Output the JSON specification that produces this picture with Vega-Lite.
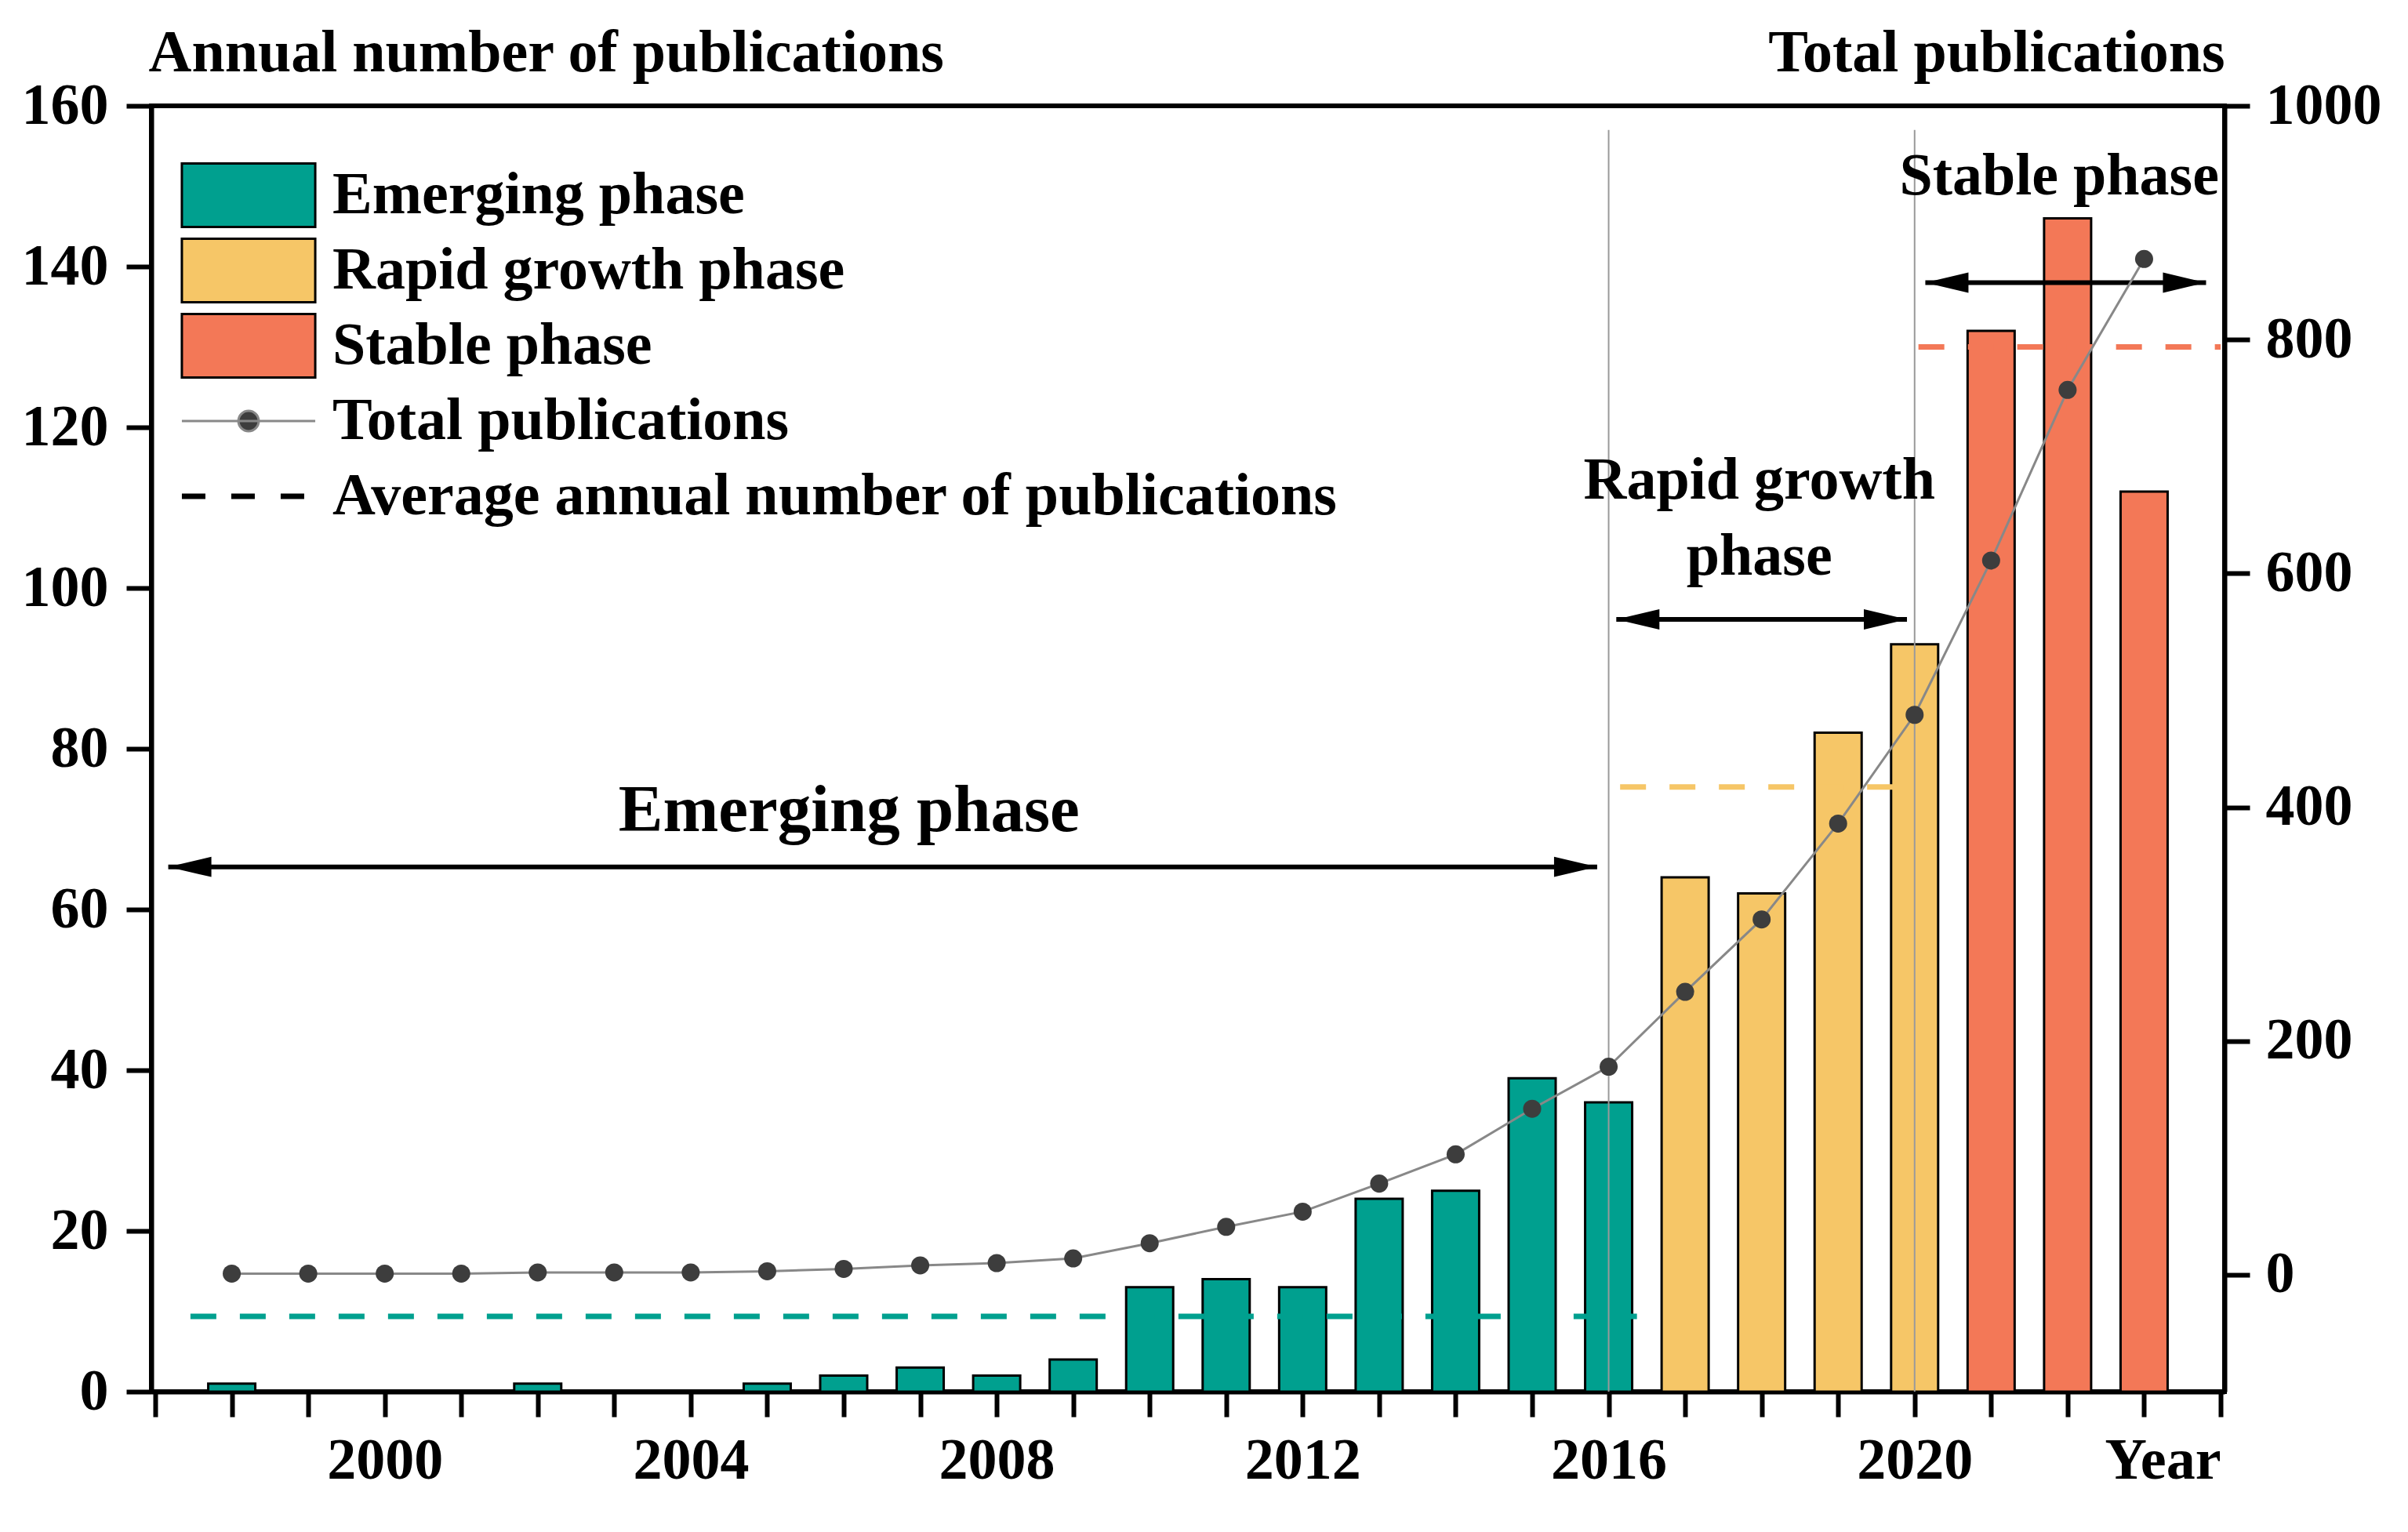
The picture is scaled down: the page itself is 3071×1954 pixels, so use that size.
{
  "$schema": "https://vega.github.io/schema/vega-lite/v6.json",
  "width": 2644,
  "height": 1640,
  "autosize": {"type": "none"},
  "padding": {"left": 193, "top": 135, "right": 234, "bottom": 179},
  "background": "white",
  "config": {
    "view": {"stroke": "black", "strokeWidth": 6},
    "font": "Liberation Serif",
    "axis": {
      "domainColor": "black", "domainWidth": 6, "tickColor": "black", "tickWidth": 6,
      "labelFont": "Liberation Serif", "labelFontWeight": "bold", "labelFontSize": 74, "labelColor": "black",
      "titleFont": "Liberation Serif", "titleFontWeight": "bold", "titleFontSize": 76, "titleColor": "black",
      "grid": false, "zindex": 1, "labelFlush": false, "labelOverlap": false, "labelBound": false
    }
  },
  "datasets": {
    "pubs": [
      {"year": 1998, "annual": 1, "total": 1, "phase": "Emerging phase"},
      {"year": 1999, "annual": 0, "total": 1, "phase": "Emerging phase"},
      {"year": 2000, "annual": 0, "total": 1, "phase": "Emerging phase"},
      {"year": 2001, "annual": 0, "total": 1, "phase": "Emerging phase"},
      {"year": 2002, "annual": 1, "total": 2, "phase": "Emerging phase"},
      {"year": 2003, "annual": 0, "total": 2, "phase": "Emerging phase"},
      {"year": 2004, "annual": 0, "total": 2, "phase": "Emerging phase"},
      {"year": 2005, "annual": 1, "total": 3, "phase": "Emerging phase"},
      {"year": 2006, "annual": 2, "total": 5, "phase": "Emerging phase"},
      {"year": 2007, "annual": 3, "total": 8, "phase": "Emerging phase"},
      {"year": 2008, "annual": 2, "total": 10, "phase": "Emerging phase"},
      {"year": 2009, "annual": 4, "total": 14, "phase": "Emerging phase"},
      {"year": 2010, "annual": 13, "total": 27, "phase": "Emerging phase"},
      {"year": 2011, "annual": 14, "total": 41, "phase": "Emerging phase"},
      {"year": 2012, "annual": 13, "total": 54, "phase": "Emerging phase"},
      {"year": 2013, "annual": 24, "total": 78, "phase": "Emerging phase"},
      {"year": 2014, "annual": 25, "total": 103, "phase": "Emerging phase"},
      {"year": 2015, "annual": 39, "total": 142, "phase": "Emerging phase"},
      {"year": 2016, "annual": 36, "total": 178, "phase": "Emerging phase"},
      {"year": 2017, "annual": 64, "total": 242, "phase": "Rapid growth phase"},
      {"year": 2018, "annual": 62, "total": 304, "phase": "Rapid growth phase"},
      {"year": 2019, "annual": 82, "total": 386, "phase": "Rapid growth phase"},
      {"year": 2020, "annual": 93, "total": 479, "phase": "Rapid growth phase"},
      {"year": 2021, "annual": 132, "total": 611, "phase": "Stable phase"},
      {"year": 2022, "annual": 146, "total": 757, "phase": "Stable phase"},
      {"year": 2023, "annual": 112, "total": 869, "phase": "Stable phase"}
    ],
    "avgs": [
      {"phase": "Emerging phase", "from": 1997.46, "to": 2016.37, "avg": 9.37},
      {"phase": "Rapid growth phase", "from": 2016.15, "to": 2020.0, "avg": 75.25},
      {"phase": "Stable phase", "from": 2020.05, "to": 2024.0, "avg": 130}
    ],
    "bounds": [{"year": 2016}, {"year": 2020}],
    "arrows": [
      {"phase": "Emerging phase", "from": 1997.17, "to": 2015.85, "level": 65.3},
      {"phase": "Rapid growth phase", "from": 2016.1, "to": 2019.9, "level": 96.1},
      {"phase": "Stable phase", "from": 2020.14, "to": 2023.81, "level": 138}
    ]
  },
  "layer": [
    {
      "layer": [
        {
          "data": {"name": "pubs"},
          "mark": {"type": "bar", "orient": "vertical", "size": 60, "stroke": "black", "strokeWidth": 3},
          "encoding": {
            "x": {
              "field": "year", "type": "quantitative",
              "scale": {"domain": [1997, 2024], "nice": false, "zero": false},
              "axis": {
                "title": null,
                "values": [1997, 1998, 1999, 2000, 2001, 2002, 2003, 2004, 2005, 2006, 2007, 2008, 2009, 2010, 2011, 2012, 2013, 2014, 2015, 2016, 2017, 2018, 2019, 2020, 2021, 2022, 2023, 2024],
                "format": "d",
                "labelExpr": "datum.value == 2024 ? 'Year' : (datum.value % 4 == 0 ? datum.label : '')",
                "tickSize": 32,
                "labelAlign": {"condition": {"test": "datum.value == 2024", "value": "right"}, "value": "center"},
                "labelPadding": 20,
                "encode": {"ticks": {"update": {"y2": {"signal": "datum.value % 4 === 0 ? 32 : 16"}}}}
              }
            },
            "y": {
              "field": "annual", "type": "quantitative",
              "scale": {"domain": [0, 160], "nice": false},
              "axis": {
                "values": [0, 20, 40, 60, 80, 100, 120, 140, 160],
                "title": "Annual number of publications",
                "titleAngle": 0, "titleAlign": "left", "titleBaseline": "alphabetic",
                "titleX": -4, "titleY": -45, "tickSize": 32, "labelPadding": 23
              }
            },
            "fill": {
              "field": "phase", "type": "nominal",
              "scale": {
                "domain": ["Emerging phase", "Rapid growth phase", "Stable phase", "Total publications", "Average annual number of publications"],
                "range": ["#00A08F", "#F6C667", "#F37857", "#3d3d3d", "#000000"]
              },
              "legend": {
                "title": null, "orient": "none", "legendX": 43, "legendY": 76, "padding": 0,
                "gridAlign": "all",
                "symbolType": "M-2.1,-1H2.1V1H-2.1Z", "symbolSize": 6561,
                "symbolStrokeColor": "black", "symbolStrokeWidth": 3, "symbolOffset": 43, "symbolOpacity": 1,
                "labelFont": "Liberation Serif", "labelFontWeight": "bold", "labelFontSize": 76, "labelColor": "black",
                "labelOffset": 69, "labelLimit": 0, "rowPadding": 2,
                "encode": {
                  "symbols": {
                    "update": {
                      "shape": {"signal": "datum.value === 'Total publications' ? 'M-2.1,0H2.1M0.32,0A0.32,0.32 0 1,1 -0.32,0A0.32,0.32 0 1,1 0.32,0Z' : (datum.value === 'Average annual number of publications' ? 'M-2.1,0H2.1' : 'M-2.1,-1H2.1V1H-2.1Z')"},
                      "stroke": {"signal": "datum.value === 'Total publications' ? '#888888' : 'black'"},
                      "strokeWidth": {"signal": "datum.value === 'Average annual number of publications' ? 7 : 3"},
                      "strokeDash": {"signal": "datum.value === 'Average annual number of publications' ? [30, 33] : null"}
                    }
                  }
                }
              }
            }
          }
        },
        {
          "data": {"name": "avgs"},
          "mark": {"type": "rule", "strokeWidth": 7, "strokeDash": [33, 30]},
          "encoding": {
            "x": {"field": "from", "type": "quantitative"},
            "x2": {"field": "to"},
            "y": {"field": "avg", "type": "quantitative"},
            "stroke": {
              "field": "phase", "type": "nominal",
              "scale": {
                "domain": ["Emerging phase", "Rapid growth phase", "Stable phase"],
                "range": ["#00A08F", "#F6C667", "#F37857"]
              },
              "legend": null
            }
          }
        },
        {
          "data": {"name": "bounds"},
          "mark": {"type": "rule", "color": "#9a9a9a", "strokeWidth": 2},
          "encoding": {
            "x": {"field": "year", "type": "quantitative"},
            "y": {"datum": 0, "type": "quantitative"},
            "y2": {"datum": 157}
          }
        },
        {
          "data": {"name": "arrows"},
          "mark": {"type": "rule", "color": "black", "strokeWidth": 6},
          "encoding": {
            "x": {"field": "from", "type": "quantitative"},
            "x2": {"field": "to"},
            "y": {"field": "level", "type": "quantitative"}
          }
        },
        {
          "data": {"name": "arrows"},
          "mark": {"type": "point", "filled": true, "color": "black", "opacity": 1, "strokeWidth": 0, "size": 3025, "shape": "M0,0L2,-0.47L2,0.47Z"},
          "encoding": {
            "x": {"field": "from", "type": "quantitative"},
            "y": {"field": "level", "type": "quantitative"}
          }
        },
        {
          "data": {"name": "arrows"},
          "mark": {"type": "point", "filled": true, "color": "black", "opacity": 1, "strokeWidth": 0, "size": 3025, "shape": "M0,0L-2,-0.47L-2,0.47Z"},
          "encoding": {
            "x": {"field": "to", "type": "quantitative"},
            "y": {"field": "level", "type": "quantitative"}
          }
        },
        {
          "data": {"values": [{"label": "Emerging phase", "x": 2006.07, "y": 69.8}]},
          "mark": {"type": "text", "font": "Liberation Serif", "fontWeight": "bold", "fontSize": 85, "color": "black", "align": "center", "baseline": "alphabetic"},
          "encoding": {
            "x": {"field": "x", "type": "quantitative"},
            "y": {"field": "y", "type": "quantitative"},
            "text": {"field": "label"}
          }
        },
        {
          "data": {"values": [
            {"label": "Rapid growth\nphase", "x": 2017.97, "y": 111.1},
            {"label": "Stable phase", "x": 2021.89, "y": 149.0}
          ]},
          "mark": {"type": "text", "font": "Liberation Serif", "fontWeight": "bold", "fontSize": 76, "color": "black", "align": "center", "baseline": "alphabetic", "lineBreak": "\n", "lineHeight": 97},
          "encoding": {
            "x": {"field": "x", "type": "quantitative"},
            "y": {"field": "y", "type": "quantitative"},
            "text": {"field": "label"}
          }
        }
      ]
    },
    {
      "layer": [
        {
          "data": {"name": "pubs"},
          "mark": {"type": "line", "color": "#888888", "strokeWidth": 3},
          "encoding": {
            "x": {"field": "year", "type": "quantitative"},
            "y": {
              "field": "total", "type": "quantitative",
              "scale": {"domain": [-100, 1000], "nice": false, "zero": false},
              "axis": {
                "orient": "right",
                "values": [0, 200, 400, 600, 800, 1000],
                "format": "d",
                "title": "Total publications",
                "titleAngle": 0, "titleAlign": "right", "titleBaseline": "alphabetic",
                "titleX": 0, "titleY": -45, "tickSize": 32, "labelPadding": 20
              }
            }
          }
        },
        {
          "data": {"name": "pubs"},
          "mark": {"type": "point", "filled": true, "color": "#3d3d3d", "opacity": 1, "size": 530, "strokeWidth": 0},
          "encoding": {
            "x": {"field": "year", "type": "quantitative"},
            "y": {"field": "total", "type": "quantitative"}
          }
        }
      ]
    }
  ],
  "resolve": {"scale": {"y": "independent"}}
}
